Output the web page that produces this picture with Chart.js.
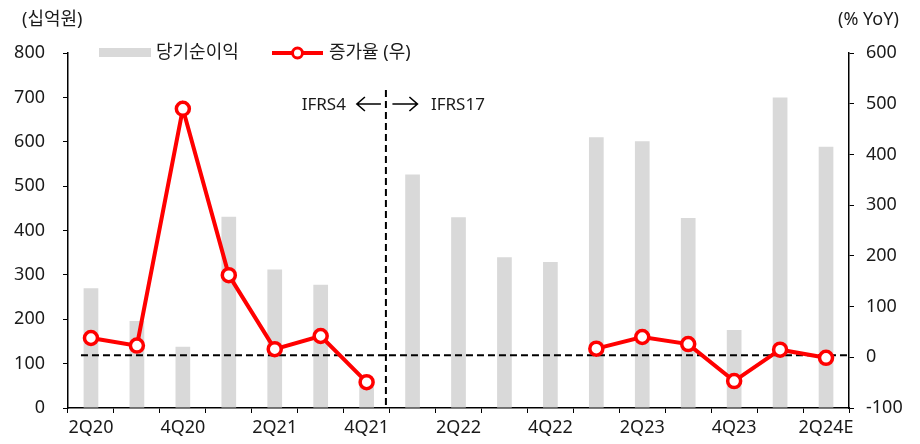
<!DOCTYPE html>
<html>
<head>
<meta charset="utf-8">
<script src="https://cdn.jsdelivr.net/npm/chart.js@4"></script>
<style>
  html, body { margin: 0; padding: 0; background: #fff; }
  #chart { display: block; }
</style>
</head>
<body>
<canvas id="chart" width="920" height="444"></canvas>
<script>
// quarters, 2Q20 ~ 2Q24E
const quarters = ["2Q20", "3Q20", "4Q20", "1Q21", "2Q21", "3Q21", "4Q21", "1Q22", "2Q22",
  "3Q22", "4Q22", "1Q23", "2Q23", "3Q23", "4Q23", "1Q24", "2Q24E"];
// 당기순이익 (십억원)
const netIncome = [270, 196, 138, 431, 312, 278, 60, 526, 430, 340, 329, 610, 601, 428, 176, 700, 589];
// 증가율 (% YoY), no comparable values right after IFRS17 switch
const growth = [38, 23, 490, 162, 16, 42, -49, null, null, null, null, 17, 40, 26, -47, 15, -1];
const leftTicks = [0, 100, 200, 300, 400, 500, 600, 700, 800];
const rightTicks = [-100, 0, 100, 200, 300, 400, 500, 600];

const FONT = "'Noto Sans', 'Noto Sans CJK KR', sans-serif";
const RED = "#ff0000";
const GRAY = "#d9d9d9";

// dashed guide lines + IFRS labels, drawn right after the bars
const guidesPlugin = {
  id: "guides",
  afterDatasetDraw(chart, args) {
    if (args.index !== 0) return;
    const { ctx, scales } = chart;
    const x = scales.x, y1 = scales.y1;
    const zeroY = y1.getPixelForValue(0) - 2;
    const splitX = x.getPixelForValue(6.42);
    ctx.save();
    ctx.strokeStyle = "#000";
    ctx.lineWidth = 2;
    ctx.setLineDash([7, 4]);
    ctx.beginPath();
    ctx.moveTo(x.getPixelForValue(0) - 10, zeroY);
    ctx.lineTo(chart.chartArea.right, zeroY);
    ctx.stroke();
    ctx.beginPath();
    ctx.moveTo(splitX, 90);
    ctx.lineTo(splitX, chart.chartArea.bottom);
    ctx.stroke();
    ctx.restore();
  },
  afterDraw(chart) {
    const { ctx } = chart;
    ctx.save();
    ctx.fillStyle = "#1a1a1a";
    ctx.font = "17px " + FONT;
    ctx.textBaseline = "middle";
    const splitX = chart.scales.x.getPixelForValue(6.42);
    ctx.textAlign = "right";
    ctx.fillText("IFRS4", splitX - 40, 105);
    ctx.textAlign = "left";
    ctx.fillText("IFRS17", splitX + 45, 105);
    // arrows
    ctx.strokeStyle = "#000";
    ctx.lineWidth = 1.6;
    const arrow = (x0, x1) => {
      const d = x1 > x0 ? -1 : 1;
      ctx.beginPath();
      ctx.moveTo(x0, 104);
      ctx.lineTo(x1, 104);
      ctx.moveTo(x1 + d * 8, 97);
      ctx.lineTo(x1, 104);
      ctx.lineTo(x1 + d * 8, 111);
      ctx.stroke();
    };
    arrow(splitX - 5, splitX - 29);
    arrow(splitX + 6.5, splitX + 31.5);

    // unit labels
    ctx.font = "18px " + FONT;
    ctx.textAlign = "left";
    ctx.fillText("(십억원)", 22, 20);
    ctx.fillText("(% YoY)", 838, 20);

    // legend
    const ds = chart.data.datasets;
    ctx.fillStyle = GRAY;
    ctx.fillRect(99, 48, 52, 9);
    ctx.fillStyle = "#1a1a1a";
    ctx.fillText(ds[0].label, 156, 53);
    ctx.strokeStyle = RED;
    ctx.lineWidth = 4;
    ctx.beginPath();
    ctx.moveTo(272, 53);
    ctx.lineTo(323, 53);
    ctx.stroke();
    ctx.fillStyle = "#fff";
    ctx.lineWidth = 3;
    ctx.beginPath();
    ctx.arc(297.5, 53, 5, 0, Math.PI * 2);
    ctx.fill();
    ctx.stroke();
    ctx.fillStyle = "#1a1a1a";
    ctx.fillText(ds[1].label, 329, 53);
    ctx.restore();
  }
};

const axisFont = { family: FONT, size: 18 };

new Chart(document.getElementById("chart"), {
  data: {
    labels: quarters,
    datasets: [
      {
        type: "bar",
        label: "당기순이익",
        data: netIncome,
        backgroundColor: GRAY,
        yAxisID: "y",
        barPercentage: 0.32,
        categoryPercentage: 1,
        order: 2
      },
      {
        type: "line",
        label: "증가율 (우)",
        data: growth,
        borderColor: RED,
        borderWidth: 4,
        pointRadius: 6.5,
        pointBorderWidth: 3.5,
        pointBackgroundColor: "#fff",
        pointBorderColor: RED,
        spanGaps: false,
        yAxisID: "y1",
        order: 1
      }
    ]
  },
  options: {
    responsive: false,
    animation: false,
    devicePixelRatio: 1,
    layout: { padding: { top: 53, left: 0, right: 0, bottom: 0 } },
    plugins: {
      legend: { display: false },
      tooltip: { enabled: false }
    },
    scales: {
      x: {
        offset: true,
        grid: { offset: true, drawOnChartArea: false, tickLength: 5, color: "#000" },
        border: { color: "#000", width: 1.5 },
        ticks: {
          autoSkip: false,
          maxRotation: 0,
          padding: 4,
          color: "#1a1a1a",
          font: axisFont,
          callback: (v, i) => (i % 2 === 0 ? quarters[i] : "")
        },
        afterFit(scale) { scale.height = 36; }
      },
      y: {
        position: "left",
        min: 0,
        max: 800,
        afterBuildTicks(scale) { scale.ticks = leftTicks.map(v => ({ value: v })); },
        grid: { drawOnChartArea: false, tickLength: 5, color: "#000" },
        border: { color: "#000", width: 1.5 },
        ticks: { padding: 18, color: "#1a1a1a", font: axisFont },
        afterFit(scale) { scale.width = 68; }
      },
      y1: {
        position: "right",
        min: -100,
        max: 600,
        afterBuildTicks(scale) { scale.ticks = rightTicks.map(v => ({ value: v })); },
        grid: { drawOnChartArea: false, tickLength: 5, color: "#000" },
        border: { color: "#000", width: 1.5 },
        ticks: { padding: 12, color: "#1a1a1a", font: axisFont },
        afterFit(scale) { scale.width = 71; }
      }
    }
  },
  plugins: [guidesPlugin]
});
</script>
</body>
</html>
